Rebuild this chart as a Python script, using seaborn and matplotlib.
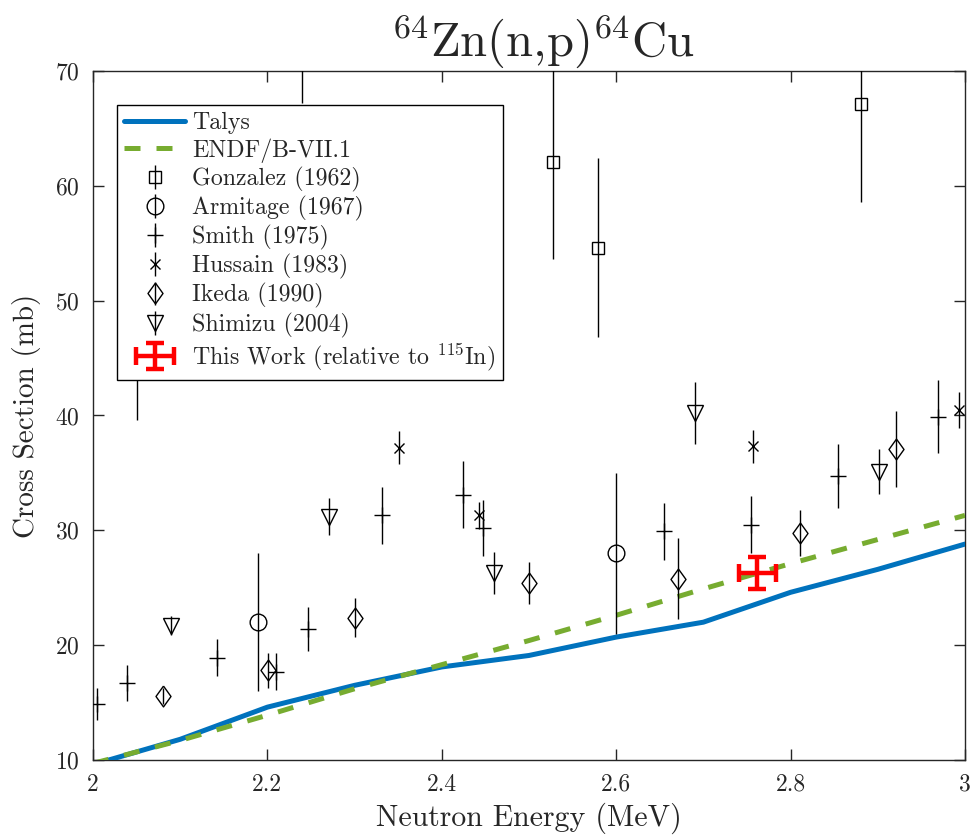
import matplotlib
matplotlib.use("Agg")
import matplotlib.pyplot as plt
from matplotlib.legend_handler import HandlerErrorbar
import seaborn as sns
import pandas as pd
import numpy as np

# --- model curves ---
energy_grid = [2.0, 2.1, 2.2, 2.3, 2.4, 2.5, 2.6, 2.7, 2.8, 2.9, 3.0]
talys_xs = [9.6, 11.8, 14.6, 16.5, 18.1, 19.1, 20.7, 22.0, 24.6, 26.6, 28.8]
endf_xs = [9.7, 11.7, 13.9, 16.2, 18.3, 20.4, 22.6, 24.9, 27.1, 29.2, 31.3]

# --- experimental data (E [MeV], xs [mb], dxs [mb]) ---
gonzalez_e = [2.05, 2.24, 2.528, 2.579, 2.881]
gonzalez_xs = [48.0, 78.0, 62.1, 54.6, 67.1]
gonzalez_err = [8.4, 10.8, 8.5, 7.8, 8.5]

armitage_e = [2.189, 2.600]
armitage_xs = [22.0, 28.0]
armitage_err = [6.0, 7.0]

smith_e = [2.005, 2.039, 2.142, 2.210, 2.247, 2.331, 2.424, 2.447, 2.655, 2.755, 2.854, 2.969]
smith_xs = [14.9, 16.7, 18.9, 17.7, 21.4, 31.3, 33.1, 30.2, 29.9, 30.5, 34.7, 39.9]
smith_err = [1.4, 1.6, 1.6, 1.6, 1.9, 2.5, 2.9, 2.4, 2.5, 2.5, 2.8, 3.2]

hussain_e = [2.351, 2.443, 2.757, 2.993]
hussain_xs = [37.2, 31.3, 37.3, 40.5]
hussain_err = [1.45, 1.2, 1.4, 1.55]

ikeda_e = [2.080, 2.201, 2.300, 2.500, 2.671, 2.811, 2.921]
ikeda_xs = [15.6, 17.8, 22.4, 25.4, 25.8, 29.8, 37.1]
ikeda_err = [0.7, 1.5, 1.7, 1.8, 3.5, 2.0, 3.3]

shimizu_e = [2.090, 2.271, 2.460, 2.690, 2.901]
shimizu_xs = [21.7, 31.2, 26.3, 40.2, 35.1]
shimizu_err = [0.8, 1.6, 1.85, 2.7, 1.95]

this_e = [2.762]
this_xs = [26.3]
this_xerr = [0.021]
this_err = [1.4]

sns.set_style("ticks")
plt.rcParams["font.family"] = ["cmr10", "DejaVu Serif"]
plt.rcParams["mathtext.fontset"] = "cm"
plt.rcParams["axes.formatter.use_mathtext"] = True
plt.rcParams["axes.unicode_minus"] = False

fig = plt.figure(figsize=(9.75, 8.39), dpi=100)
ax = fig.add_axes([0.0954, 0.0942, 0.8943, 0.8212])

curves = pd.DataFrame({"E": energy_grid, "Talys": talys_xs, "ENDF": endf_xs})
sns.lineplot(data=curves, x="E", y="Talys", ax=ax, color="#0072BD", lw=3.6,
             label="Talys", zorder=3)
sns.lineplot(data=curves, x="E", y="ENDF", ax=ax, color="#77AC30", lw=3.6,
             label="ENDF/B-VII.1", zorder=3)
ax.lines[-1].set_dashes([3.2, 3.2])

diamond = [(0, 1), (0.72, 0), (0, -1), (-0.72, 0), (0, 1)]
exp_sets = [
    ("Gonzalez (1962)", gonzalez_e, gonzalez_xs, gonzalez_err, "s", 9),
    ("Armitage (1967)", armitage_e, armitage_xs, armitage_err, "o", 12),
    ("Smith (1975)", smith_e, smith_xs, smith_err, "+", 11),
    ("Hussain (1983)", hussain_e, hussain_xs, hussain_err, "x", 7),
    ("Ikeda (1990)", ikeda_e, ikeda_xs, ikeda_err, diamond, 15),
    ("Shimizu (2004)", shimizu_e, shimizu_xs, shimizu_err, "v", 12),
]
for name, e, xs, err, mk, ms in exp_sets:
    ax.errorbar(e, xs, yerr=err, fmt="", marker=mk, linestyle="none", ms=ms,
                mfc="none", mec="black", mew=1.0, ecolor="black",
                elinewidth=1.0, capsize=0, label=name, zorder=4)

this_work = ax.errorbar(this_e, this_xs, xerr=this_xerr, yerr=this_err,
                        fmt="none", ecolor="red", elinewidth=3.2, capsize=6.5,
                        capthick=3.2, label=r"This Work (relative to $^{115}$In)",
                        zorder=5)

ax.set_xlim(2, 3)
ax.set_ylim(10, 70)
ax.set_xticks([2, 2.2, 2.4, 2.6, 2.8, 3])
ax.set_xticklabels(["2", "2.2", "2.4", "2.6", "2.8", "3"])
ax.set_yticks(range(10, 71, 10))
for s in ax.spines.values():
    s.set_visible(True)
    s.set_color("#262626")
    s.set_linewidth(1.0)
ax.tick_params(direction="in", length=8, width=1.0, top=True, right=True,
               labelsize=17, colors="#262626", pad=10)
ax.set_xlabel("Neutron Energy (MeV)", fontsize=21.5, color="#262626", labelpad=5)
ax.set_ylabel("Cross Section (mb)", fontsize=21, color="#262626", labelpad=10)
ttl = ax.set_title(r"$^{64}$Zn(n,p)$^{64}$Cu", fontsize=35, pad=11)
ttl.set_x(0.516)

leg = ax.legend(loc="upper left", bbox_to_anchor=(0.0275, 0.951),
                fontsize=17.2, frameon=True, fancybox=False, edgecolor="black",
                framealpha=1, handlelength=2.55, handletextpad=0.3,
                labelspacing=0.17, borderpad=0.3, borderaxespad=0,
                handler_map={this_work: HandlerErrorbar(xerr_size=0.8, yerr_size=0.55)})
leg.get_frame().set_linewidth(1.0)

fig.savefig("out.png", dpi=100)
